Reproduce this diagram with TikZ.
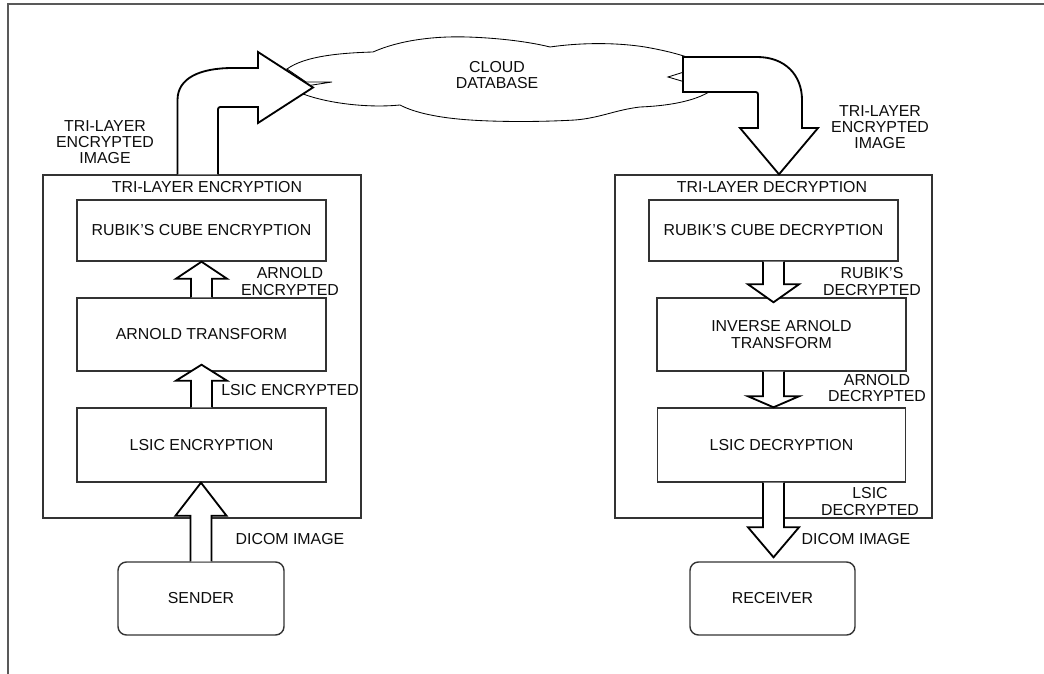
\documentclass[tikz,border=0pt]{standalone}
\usepackage{fontspec}
\setmainfont{Liberation Sans}
\usetikzlibrary{calc}
\newlength{\px}
\setlength{\px}{0.025cm}
\newcommand{\blkup}[3]{%
  \draw[blockarr] let \p1=(#1), \p2=(#2) in
    ({\x1-10.5*\px},\y1) -- ({\x1-10.5*\px},{\y2-#3*\px}) -- ({\x1-25.5*\px},{\y2-#3*\px})
    -- (\x1,\y2) -- ({\x1+25.5*\px},{\y2-#3*\px}) -- ({\x1+10.5*\px},{\y2-#3*\px}) -- ({\x1+10.5*\px},\y1);}
\newcommand{\blkdown}[3]{%
  \draw[blockarr] let \p1=(#1), \p2=(#2) in
    ({\x1-10.5*\px},\y1) -- ({\x1-10.5*\px},{\y2+#3*\px}) -- ({\x1-25.5*\px},{\y2+#3*\px})
    -- (\x1,\y2) -- ({\x1+25.5*\px},{\y2+#3*\px}) -- ({\x1+10.5*\px},{\y2+#3*\px}) -- ({\x1+10.5*\px},\y1);}
\begin{document}
\begin{tikzpicture}[x=0.025cm,y=-0.025cm,
    every node/.style={font=\fontsize{11.3}{11.5}\selectfont, text=black!95},
    box/.style={draw=black!80, line width=1pt, fill=white, inner sep=0pt, align=center},
    lbl/.style={align=center, inner sep=0pt},
    blockarr/.style={draw=black, line width=1.3pt, fill=white, line join=miter},
    frame/.style={draw=black!65, line width=1.5pt}]
    \useasboundingbox (0,0) rectangle (1044,674);
    \draw[frame] (8,674) -- (8,4) -- (1044,4);

    \draw[line width=0.6pt, fill=white] (287,69) -- (306,82) -- (332,82) -- (306,86) -- (303,94)
        .. controls (330,104) and (370,108) .. (400,105)
        .. controls (415,113) and (440,118) .. (470,120)
        .. controls (500,122) and (540,122) .. (575,120)
        .. controls (600,118) and (615,110) .. (640,107)
        .. controls (665,106) and (695,102) .. (712,90)
        -- (685,82) -- (668,77) -- (684,72) -- (690,58)
        .. controls (675,53) and (662,50) .. (645,47)
        .. controls (620,43) and (585,42) .. (550,47)
        .. controls (530,42) and (500,38) .. (467,37)
        .. controls (435,36) and (400,40) .. (373,52)
        .. controls (340,53) and (305,56) .. (287,69) -- cycle;
    \node[lbl] (cloud) at (497,75) {CLOUD\\DATABASE};
    \coordinate (cin) at (313,87.5);
    \coordinate (cout) at (683,57);

    \node[box, minimum width=318*\px, minimum height=343*\px] (enc) at (202,346.5) {};
    \node (encT) at (207,187) {TRI-LAYER ENCRYPTION};
    \node[box, minimum width=249*\px, minimum height=61*\px] (rub) at (201.5,230.5) {RUBIK'S CUBE ENCRYPTION};
    \node[box, minimum width=249*\px, minimum height=73*\px] (arn) at (201.5,334.5) {ARNOLD TRANSFORM};
    \node[box, minimum width=249*\px, minimum height=74*\px] (lsc) at (201.5,445) {LSIC ENCRYPTION};
    \node[box, rounded corners=6pt, minimum width=166*\px, minimum height=73*\px] (snd) at (201,598.5) {SENDER};

    \node[box, minimum width=317*\px, minimum height=343*\px] (dec) at (773.5,346.5) {};
    \node (decT) at (772,187) {TRI-LAYER DECRYPTION};
    \node[box, minimum width=249*\px, minimum height=61*\px] (rubd) at (773.5,230.5) {RUBIK'S CUBE DECRYPTION};
    \node[box, minimum width=249*\px, minimum height=73*\px] (inv) at (781.5,334.5) {INVERSE ARNOLD\\TRANSFORM};
    \node[box, minimum width=248*\px, minimum height=74*\px] (lscd) at (781.5,445) {LSIC DECRYPTION};
    \node[box, rounded corners=6pt, minimum width=165*\px, minimum height=73*\px] (rcv) at (772.5,598.5) {RECEIVER};

    \blkup{snd.north}{lsc.south}{33}
    \blkup{lsc.north}{$(arn.south)+(0,-7)$}{16}
    \blkup{arn.north}{rub.south}{17}
    \blkdown{rubd.south}{$(inv.north)+(0,5)$}{18}
    \blkdown{inv.south -| rubd.south}{lscd.north}{11}
    \blkdown{lscd.south -| rubd.south}{$(rcv.north)+(0,-4)$}{30}

    \draw[blockarr] ($(enc.north)+(-24.5,0)$) -- (177.5,100) .. controls (177.5,78) and (200,68) .. (233,68)
        -- (258,68) -- (258,52) -- (cin) -- (258,123) -- (258,107) -- (223,107)
        .. controls (218,107) .. (218,112) -- ($(enc.north)+(16,0)$);
    \draw[blockarr] (cout) -- (757,57) .. controls (785,57) and (802,75) .. (802,100) -- (802,128)
        -- (818,128) -- ($(dec.north)+(5.5,0)$) -- (740,128) -- (758,128) -- (758,97)
        .. controls (758,92) .. (753,92) -- (683,92) -- cycle;

    \node[lbl] (lblEncImg) at (105,142) {TRI-LAYER\\ENCRYPTED\\IMAGE};
    \node[lbl] (lblDecImg) at (880,127) {TRI-LAYER\\ENCRYPTED\\IMAGE};
    \node[lbl] (lblArnE) at (290,281.5) {ARNOLD\\ENCRYPTED};
    \node[lbl] (lblLsicE) at (290,390) {LSIC ENCRYPTED};
    \node[lbl] (lblDicomE) at (290,539) {DICOM IMAGE};
    \node[lbl] (lblRubD) at (872,281.5) {RUBIK'S\\DECRYPTED};
    \node[lbl] (lblArnD) at (877,388) {ARNOLD\\DECRYPTED};
    \node[lbl] (lblLsicD) at (870,501.5) {LSIC\\DECRYPTED};
    \node[lbl] (lblDicomD) at (856,539) {DICOM IMAGE};
\end{tikzpicture}
\end{document}
